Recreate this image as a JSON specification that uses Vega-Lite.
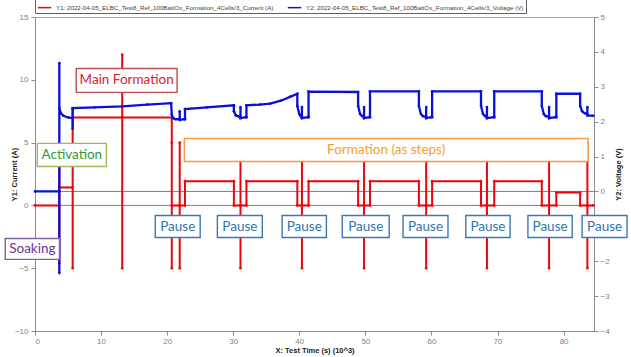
{
  "$schema": "https://vega.github.io/schema/vega-lite/v6.json",
  "width": 559,
  "height": 314,
  "autosize": {"type": "none"},
  "padding": {"left": 35, "top": 17, "right": 37, "bottom": 26},
  "background": "white",
  "config": {
    "view": {"stroke": "#a6a6a6"},
    "font": "Liberation Sans",
    "axis": {
      "grid": false,
      "domainColor": "#8c8c8c",
      "tickColor": "#8c8c8c",
      "labelColor": "#7f7f7f",
      "labelFontSize": 8,
      "labelFont": "Liberation Sans",
      "titleFont": "Liberation Sans",
      "titleFontSize": 7.5,
      "titleFontWeight": "bold",
      "titleColor": "#202020",
      "tickSize": 4
    },
    "axisX": {"labelPadding": 2, "titlePadding": 1},
    "axisLeft": {"labelPadding": 3, "titlePadding": -4},
    "axisRight": {"labelPadding": 2, "titlePadding": 13, "titleAngle": 270},
    "legend": {
      "orient": "top",
      "direction": "horizontal",
      "offset": 4,
      "padding": 2,
      "strokeColor": "#606060",
      "labelFont": "Liberation Sans",
      "labelFontSize": 6.2,
      "labelColor": "#404040",
      "labelLimit": 400,
      "labelOffset": 4,
      "symbolType": "stroke",
      "symbolSize": 180,
      "symbolStrokeWidth": 1.5,
      "columnPadding": 10
    }
  },
  "datasets": {
    "current": [
      {"t": 0, "i": 0}, {"t": 3.68, "i": 0}, {"t": 3.68, "i": 3.2}, {"t": 3.68, "i": -4.6}, {"t": 3.68, "i": 1.43},
      {"t": 5.7, "i": 1.43}, {"t": 5.7, "i": -5}, {"t": 5.7, "i": 7.7}, {"t": 5.7, "i": 7.0},
      {"t": 13.2, "i": 7.0}, {"t": 13.2, "i": 12}, {"t": 13.2, "i": -5}, {"t": 13.2, "i": 7.0},
      {"t": 20.7, "i": 7.0}, {"t": 20.7, "i": 5}, {"t": 20.7, "i": -5}, {"t": 20.7, "i": 0},
      {"t": 21.9, "i": 0}, {"t": 21.9, "i": 5}, {"t": 21.9, "i": -5}, {"t": 21.9, "i": 0},
      {"t": 22.7, "i": 0}, {"t": 22.7, "i": 1.93}, {"t": 30.1, "i": 1.93}, {"t": 30.1, "i": 0},
      {"t": 31.1, "i": 0}, {"t": 31.1, "i": 5}, {"t": 31.1, "i": -5}, {"t": 31.1, "i": 0},
      {"t": 32.0, "i": 0}, {"t": 32.0, "i": 1.93}, {"t": 39.7, "i": 1.93}, {"t": 39.7, "i": 0},
      {"t": 40.4, "i": 0}, {"t": 40.4, "i": 5}, {"t": 40.4, "i": -5}, {"t": 40.4, "i": 0},
      {"t": 41.4, "i": 0}, {"t": 41.4, "i": 1.93}, {"t": 48.9, "i": 1.93}, {"t": 48.9, "i": 0},
      {"t": 49.8, "i": 0}, {"t": 49.8, "i": 5}, {"t": 49.8, "i": -5}, {"t": 49.8, "i": 0},
      {"t": 50.7, "i": 0}, {"t": 50.7, "i": 1.93}, {"t": 58.1, "i": 1.93}, {"t": 58.1, "i": 0},
      {"t": 59.2, "i": 0}, {"t": 59.2, "i": 5}, {"t": 59.2, "i": -5}, {"t": 59.2, "i": 0},
      {"t": 60.1, "i": 0}, {"t": 60.1, "i": 1.93}, {"t": 67.5, "i": 1.93}, {"t": 67.5, "i": 0},
      {"t": 68.4, "i": 0}, {"t": 68.4, "i": 5}, {"t": 68.4, "i": -5}, {"t": 68.4, "i": 0},
      {"t": 69.5, "i": 0}, {"t": 69.5, "i": 1.93}, {"t": 76.7, "i": 1.93}, {"t": 76.7, "i": 0},
      {"t": 77.8, "i": 0}, {"t": 77.8, "i": 5}, {"t": 77.8, "i": -5}, {"t": 77.8, "i": 0},
      {"t": 78.9, "i": 0}, {"t": 78.9, "i": 1.03}, {"t": 82.5, "i": 1.03}, {"t": 82.5, "i": 0},
      {"t": 83.6, "i": 0}, {"t": 83.6, "i": 5}, {"t": 83.6, "i": -5}, {"t": 83.6, "i": 0},
      {"t": 84.5, "i": 0}
    ],
    "voltage": [
      {"t": 0, "v": 0.0}, {"t": 3.68, "v": 0.0}, {"t": 3.68, "v": 3.68}, {"t": 3.68, "v": -2.34}, {"t": 3.68, "v": 2.4},
      {"t": 3.9, "v": 2.25}, {"t": 4.3, "v": 2.17}, {"t": 5.0, "v": 2.12}, {"t": 5.7, "v": 2.1}, {"t": 5.7, "v": 1.8}, {"t": 5.7, "v": 2.39},
      {"t": 9, "v": 2.41}, {"t": 13.2, "v": 2.44}, {"t": 17, "v": 2.49}, {"t": 20.6, "v": 2.53},
      {"t": 20.7, "v": 2.2}, {"t": 20.9, "v": 2.1}, {"t": 21.3, "v": 2.07}, {"t": 21.9, "v": 2.08}, {"t": 21.9, "v": 2.3}, {"t": 21.9, "v": 2.05},
      {"t": 22.6, "v": 2.07}, {"t": 22.7, "v": 2.07}, {"t": 22.7, "v": 2.36}, {"t": 26, "v": 2.41}, {"t": 30.1, "v": 2.47},
      {"t": 30.1, "v": 2.3}, {"t": 30.4, "v": 2.18}, {"t": 30.8, "v": 2.15}, {"t": 31.1, "v": 2.14}, {"t": 31.1, "v": 2.42}, {"t": 31.1, "v": 2.1},
      {"t": 31.9, "v": 2.13}, {"t": 32.0, "v": 2.13}, {"t": 32.0, "v": 2.47}, {"t": 34, "v": 2.49}, {"t": 35.6, "v": 2.52}, {"t": 37.2, "v": 2.6},
      {"t": 38.6, "v": 2.71}, {"t": 39.7, "v": 2.8},
      {"t": 39.7, "v": 2.45}, {"t": 40.0, "v": 2.22}, {"t": 40.2, "v": 2.16}, {"t": 40.4, "v": 2.14}, {"t": 40.4, "v": 2.42}, {"t": 40.4, "v": 2.1},
      {"t": 41.3, "v": 2.13}, {"t": 41.4, "v": 2.13}, {"t": 41.4, "v": 2.86}, {"t": 48.9, "v": 2.85},
      {"t": 48.9, "v": 2.45}, {"t": 49.2, "v": 2.22}, {"t": 49.5, "v": 2.16}, {"t": 49.8, "v": 2.14}, {"t": 49.8, "v": 2.42}, {"t": 49.8, "v": 2.1},
      {"t": 50.6, "v": 2.13}, {"t": 50.7, "v": 2.13}, {"t": 50.7, "v": 2.87}, {"t": 58.1, "v": 2.87},
      {"t": 58.1, "v": 2.45}, {"t": 58.4, "v": 2.22}, {"t": 58.7, "v": 2.16}, {"t": 59.2, "v": 2.14}, {"t": 59.2, "v": 2.42}, {"t": 59.2, "v": 2.1},
      {"t": 60.0, "v": 2.13}, {"t": 60.1, "v": 2.13}, {"t": 60.1, "v": 2.87}, {"t": 67.5, "v": 2.87},
      {"t": 67.5, "v": 2.45}, {"t": 67.8, "v": 2.22}, {"t": 68.1, "v": 2.16}, {"t": 68.4, "v": 2.14}, {"t": 68.4, "v": 2.42}, {"t": 68.4, "v": 2.1},
      {"t": 69.4, "v": 2.13}, {"t": 69.5, "v": 2.13}, {"t": 69.5, "v": 2.87}, {"t": 76.7, "v": 2.87},
      {"t": 76.7, "v": 2.45}, {"t": 77.0, "v": 2.22}, {"t": 77.3, "v": 2.16}, {"t": 77.8, "v": 2.14}, {"t": 77.8, "v": 2.42}, {"t": 77.8, "v": 2.1},
      {"t": 78.8, "v": 2.13}, {"t": 78.9, "v": 2.13}, {"t": 78.9, "v": 2.8}, {"t": 82.5, "v": 2.8},
      {"t": 82.5, "v": 2.45}, {"t": 82.8, "v": 2.3}, {"t": 83.2, "v": 2.24}, {"t": 83.6, "v": 2.22}, {"t": 83.6, "v": 2.42}, {"t": 83.6, "v": 2.18},
      {"t": 84.5, "v": 2.17}
    ],
    "notes": [
      {"label": "Main Formation", "t0": 6.24, "t1": 21.5, "i0": 10.9, "i1": 9.0, "tc": 13.87, "ic": 9.95},
      {"label": "Activation", "t0": 0.35, "t1": 10.8, "i0": 4.94, "i1": 3.1, "tc": 5.57, "ic": 4.02},
      {"label": "Soaking", "t0": -4.5, "t1": 3.7, "i0": -2.63, "i1": -4.3, "tc": -0.4, "ic": -3.47},
      {"label": "Formation (as steps)", "t0": 22.6, "t1": 83.7, "i0": 5.33, "i1": 3.5, "tc": 53.15, "ic": 4.42},
      {"label": "Pause", "t0": 18.2, "t1": 25.0, "i0": -0.8, "i1": -2.55, "tc": 21.6, "ic": -1.68},
      {"label": "Pause", "t0": 27.6, "t1": 34.4, "i0": -0.8, "i1": -2.55, "tc": 31.0, "ic": -1.68},
      {"label": "Pause", "t0": 37.4, "t1": 44.1, "i0": -0.8, "i1": -2.55, "tc": 40.75, "ic": -1.68},
      {"label": "Pause", "t0": 46.5, "t1": 53.6, "i0": -0.8, "i1": -2.55, "tc": 50.05, "ic": -1.68},
      {"label": "Pause", "t0": 55.7, "t1": 62.5, "i0": -0.8, "i1": -2.55, "tc": 59.1, "ic": -1.68},
      {"label": "Pause", "t0": 65.2, "t1": 71.9, "i0": -0.8, "i1": -2.55, "tc": 68.55, "ic": -1.68},
      {"label": "Pause", "t0": 74.6, "t1": 81.3, "i0": -0.8, "i1": -2.55, "tc": 77.95, "ic": -1.68},
      {"label": "Pause", "t0": 82.8, "t1": 89.6, "i0": -0.8, "i1": -2.55, "tc": 86.2, "ic": -1.68}
    ]
  },
  "layer": [
    {
      "data": {"values": [{}]},
      "mark": {"type": "rule", "color": "#7f7f7f", "strokeWidth": 1},
      "encoding": {"y": {"datum": 0, "type": "quantitative", "scale": {"domain": [-10, 15], "nice": false}, "axis": null}}
    },
    {
      "data": {"values": [{}]},
      "mark": {"type": "rule", "color": "#7f7f7f", "strokeWidth": 1},
      "encoding": {"y": {"datum": 0, "type": "quantitative", "scale": {"domain": [-4, 5], "nice": false}, "axis": null}}
    },
    {
      "data": {"name": "current"},
      "mark": {"type": "line", "strokeWidth": 2, "point": {"filled": true, "size": 7}},
      "encoding": {
        "x": {"field": "t", "type": "quantitative", "scale": {"domain": [0, 84.6], "nice": false}, "title": "X: Test Time (s) (10^3)", "axis": {"values": [0, 10, 20, 30, 40, 50, 60, 70, 80]}},
        "y": {"field": "i", "type": "quantitative", "scale": {"domain": [-10, 15], "nice": false}, "title": "Y1: Current (A)", "axis": {"orient": "left", "values": [-10, -5, 0, 5, 10, 15]}},
        "order": {"value": null},
        "color": {
          "datum": "Y1: 2022-04-05_ELBC_Test8_Ref_100BattOx_Formation_4Cells/3_Current (A)",
          "scale": {
            "domain": ["Y1: 2022-04-05_ELBC_Test8_Ref_100BattOx_Formation_4Cells/3_Current (A)", "Y2: 2022-04-05_ELBC_Test8_Ref_100BattOx_Formation_4Cells/3_Voltage (V)"],
            "range": ["#e8070e", "#0a10d8"]
          },
          "legend": {"title": null}
        }
      }
    },
    {
      "data": {"name": "voltage"},
      "mark": {"type": "line", "strokeWidth": 2.3, "point": {"filled": true, "size": 7}},
      "encoding": {
        "x": {"field": "t", "type": "quantitative", "scale": {"domain": [0, 84.6], "nice": false}, "title": "X: Test Time (s) (10^3)", "axis": {"values": [0, 10, 20, 30, 40, 50, 60, 70, 80]}},
        "y": {"field": "v", "type": "quantitative", "scale": {"domain": [-4, 5], "nice": false}, "title": "Y2: Voltage (V)", "axis": {"orient": "right", "values": [-4, -3, -2, 0, 1, 2, 3, 4, 5]}},
        "order": {"value": null},
        "color": {"datum": "Y2: 2022-04-05_ELBC_Test8_Ref_100BattOx_Formation_4Cells/3_Voltage (V)"}
      }
    },
    {
      "data": {"name": "notes"},
      "mark": {"type": "rect", "fill": "white", "strokeWidth": 1.4},
      "encoding": {
        "x": {"field": "t0", "type": "quantitative", "scale": {"domain": [0, 84.6], "nice": false}, "title": "X: Test Time (s) (10^3)", "axis": {"values": [0, 10, 20, 30, 40, 50, 60, 70, 80]}},
        "x2": {"field": "t1"},
        "y": {"field": "i0", "type": "quantitative", "scale": {"domain": [-10, 15], "nice": false}, "axis": null},
        "y2": {"field": "i1"},
        "stroke": {
          "field": "label", "type": "nominal",
          "scale": {"domain": ["Main Formation", "Activation", "Soaking", "Formation (as steps)", "Pause"], "range": ["#c0504d", "#9bbb59", "#8064a2", "#f79646", "#3a78b8"]},
          "legend": null
        }
      }
    },
    {
      "data": {"name": "notes"},
      "mark": {"type": "text", "font": "Lato", "fontSize": 13.5, "align": "center", "baseline": "middle"},
      "encoding": {
        "x": {"field": "tc", "type": "quantitative", "scale": {"domain": [0, 84.6], "nice": false}, "title": "X: Test Time (s) (10^3)", "axis": {"values": [0, 10, 20, 30, 40, 50, 60, 70, 80]}},
        "y": {"field": "ic", "type": "quantitative", "scale": {"domain": [-10, 15], "nice": false}, "axis": null},
        "text": {"field": "label"},
        "fill": {
          "field": "label", "type": "nominal",
          "scale": {"domain": ["Main Formation", "Activation", "Soaking", "Formation (as steps)", "Pause"], "range": ["#d9232a", "#2f9a3a", "#7030a0", "#f2a12e", "#2e75b6"]},
          "legend": null
        }
      }
    }
  ],
  "resolve": {"scale": {"y": "independent"}, "axis": {"y": "independent"}}
}
